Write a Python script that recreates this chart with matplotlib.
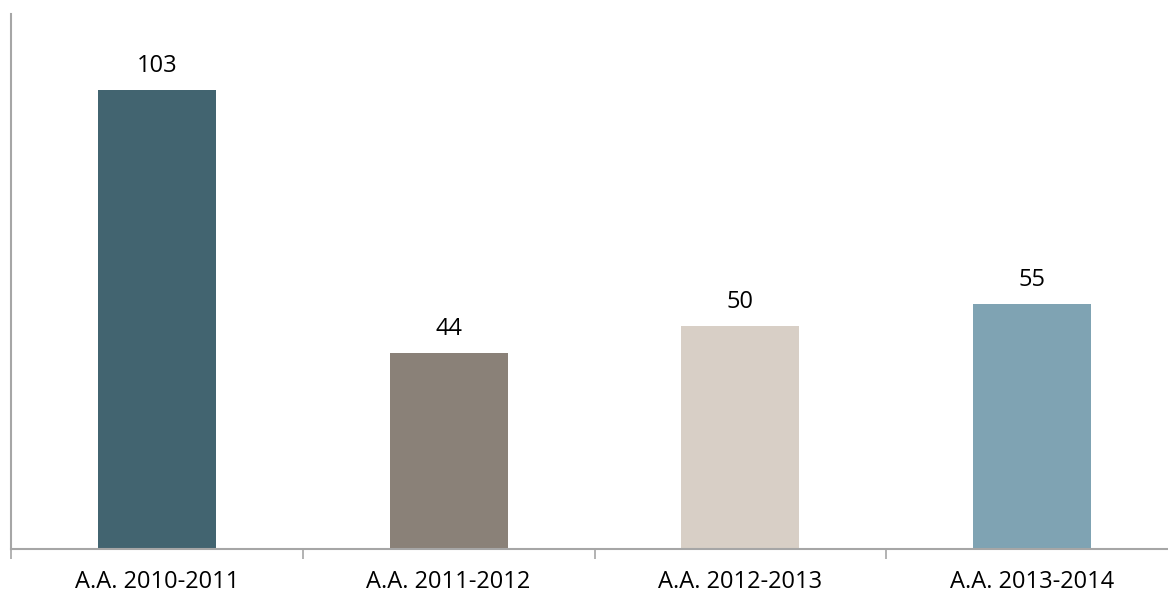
import matplotlib
matplotlib.use("Agg")
from matplotlib import pyplot as plt

# dati
categorie = ["A.A. 2010-2011", "A.A. 2011-2012", "A.A. 2012-2013", "A.A. 2013-2014"]
valori = [103, 44, 50, 55]
colori = ["#426470", "#8a8178", "#d8cfc6", "#7fa3b3"]

plt.rcParams['font.family'] = ['Open Sans', 'DejaVu Sans']

fig = plt.figure(figsize=(11.68, 5.97), dpi=100)
# the axes runs a bit past the right edge, like in the original
ax = fig.add_axes([11 / 1168, 48 / 597, 1167 / 1168, 535 / 597])

x = range(len(categorie))
ax.bar(x, valori, width=0.405, color=colori)

for i, v in enumerate(valori):
    ax.annotate(str(v), (i, v), xytext=(0, 17), textcoords="offset points",
                ha="center", va="center", fontsize=17, color="black")

ax.set_xlim(-0.5, len(categorie) - 0.5)
ax.set_ylim(0, 120)

ax.spines["top"].set_visible(False)
ax.spines["right"].set_visible(False)
for s in ["left", "bottom"]:
    ax.spines[s].set_color("#a6a6a6")
    ax.spines[s].set_linewidth(1.5)

ax.set_yticks([])
ax.set_xticks([-0.5, 0.5, 1.5, 2.5, 3.5])
ax.set_xticklabels([])
ax.set_xticks(list(x), minor=True)
ax.set_xticklabels(categorie, minor=True, fontsize=17)
ax.tick_params(axis="x", which="major", length=7, width=1.2, color="#a6a6a6")
ax.tick_params(axis="x", which="minor", length=0, pad=15)

fig.savefig("out.png", dpi=100)
